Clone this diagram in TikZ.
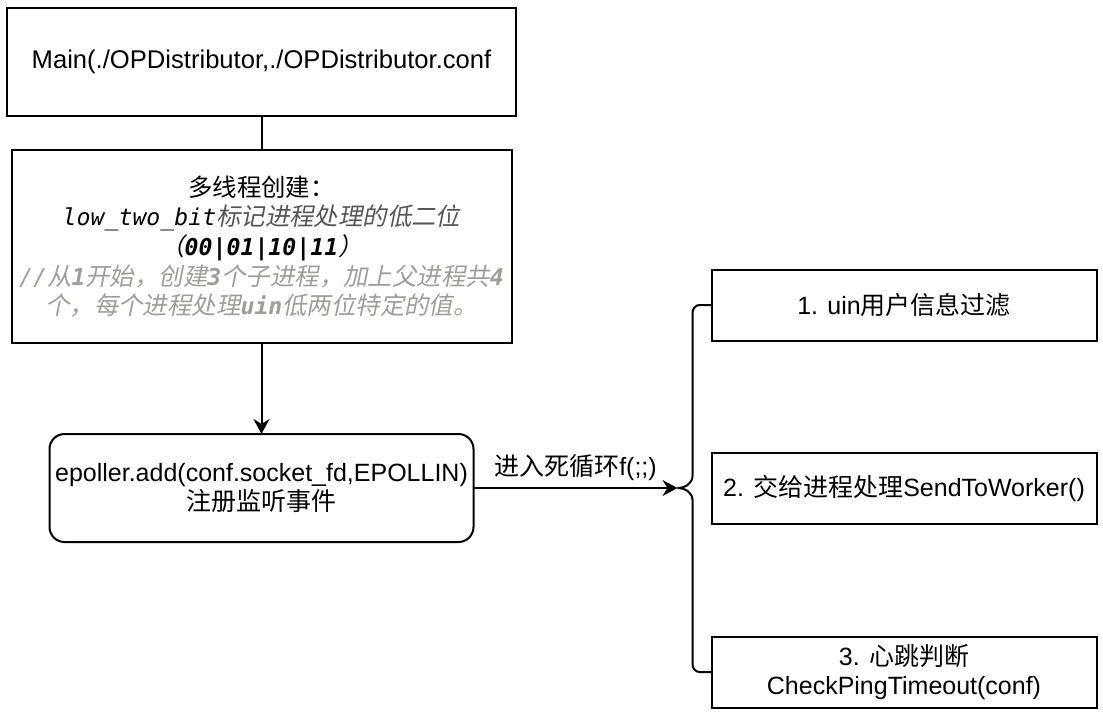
\documentclass[tikz,border=0pt]{standalone}
\usepackage{fontspec}
\setmainfont{Liberation Sans}
\newfontfamily\cjk{Noto Sans CJK SC}
\newfontfamily\cjkit[FakeSlant=0.2]{Noto Sans CJK SC}
\newfontfamily\codeit[Scale=0.95]{DejaVu Sans Mono}
\usepackage{xcolor}
\usetikzlibrary{positioning,arrows.meta}

\definecolor{notegray}{RGB}{85,85,85}
\definecolor{commentgray}{RGB}{158,158,150}

\newcommand{\zh}[1]{{\cjk #1}}
\newcommand{\zhi}[1]{{\cjkit #1}}
\newcommand{\code}[1]{{\codeit\itshape #1}}
\newcommand{\codeb}[1]{{\codeit\itshape\bfseries #1}}

\begin{document}
\begin{tikzpicture}[
    box/.style={draw, line width=1pt, outer sep=0pt, align=center, inner sep=2pt,
        font=\fontsize{12.5}{14.5}\selectfont},
    stepbox/.style={box, minimum width=192.5pt, minimum height=35.5pt},
    line/.style={line width=1pt},
    >={Stealth[length=7.5pt,width=8pt,inset=2.5pt]}
]
    \useasboundingbox (0,0) rectangle (551.5pt,-356.5pt);

    \node[box, minimum width=254.5pt, minimum height=54pt,
        font=\fontsize{12.8}{14.5}\selectfont] (main) at (130.75pt,-31pt)
        {Main(./OPDistributor,./OPDistributor.conf};
    \node[box, below=17pt of main, minimum width=250pt, minimum height=96.5pt,
        font=\fontsize{12.2}{14.8}\selectfont] (thread) {%
        \zh{多线程创建：}\\
        \code{low\_two\_bit}{\color{notegray}\zhi{标记进程处理的低二位}}\\
        \zhi{（}\codeb{00|01|10|11}\zhi{）}\\
        {\color{commentgray}\code{//}\zhi{从}\codeb{1}\zhi{开始，创建}\codeb{3}\zhi{个子进程，加上父进程共}\codeb{4}}\\
        {\color{commentgray}\zhi{个，每个进程处理}\codeb{uin}\zhi{低两位特定的值。}}};
    \node[box, below=45.5pt of thread, rounded corners=7.5pt, inner xsep=0pt,
        minimum width=212pt, minimum height=54pt] (epoll)
        {epoller.add(conf.socket\_fd,EPOLLIN)\\\zh{注册监听事件}};

    % three steps of the loop
    \node[stepbox, right=119pt of epoll] (step2) {2. \zh{交给进程处理}SendToWorker()};
    \node[stepbox, above=56pt of step2] (step1) {1. uin\zh{用户信息过滤}};
    \node[stepbox, below=56.5pt of step2] (step3) {3. \zh{心跳判断}\\CheckPingTimeout(conf)};
    \coordinate[left=17pt of step2.west] (tip);
    \coordinate[left=9.5pt of step2.west] (bend);

    \draw[line] (main) -- (thread);
    \draw[line, ->] (thread) -- (epoll);
    \draw[line, ->] (epoll) -- node[above, inner sep=3pt,
        font=\fontsize{12.5}{14.5}\selectfont] {\zh{进入死循环}f(;;)} (tip);
    % curly bracket
    \draw[line] (step1.west) -- ++(-6pt,0) to[out=180,in=90] ++(-3.5pt,-4pt)
        -- ([yshift=6pt]bend) to[out=-90,in=0] (tip)
        to[out=0,in=90] ([yshift=-6pt]bend)
        -- ([yshift=4pt]bend |- step3.west) to[out=-90,in=180] ([xshift=3.5pt]bend |- step3.west)
        -- (step3.west);
\end{tikzpicture}
\end{document}
